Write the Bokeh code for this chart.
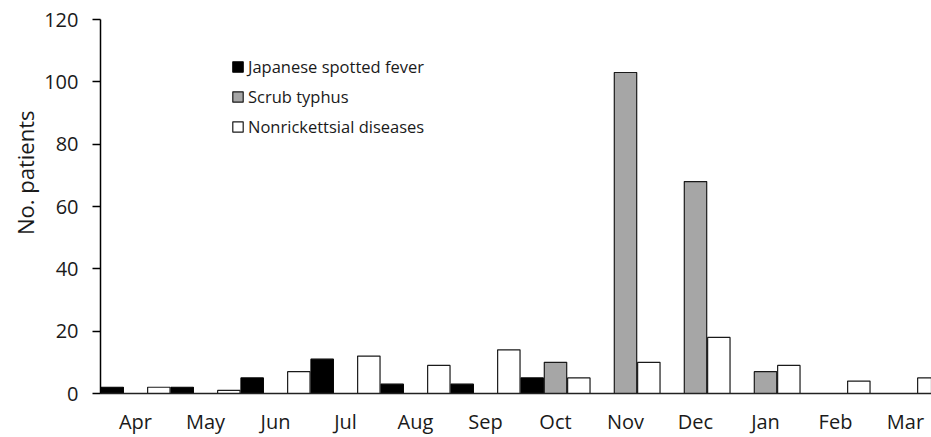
from bokeh.plotting import figure
from bokeh.models import ColumnDataSource, Legend, LegendItem, Title, FixedTicker
from bokeh.transform import dodge
from bokeh.embed import file_html
from bokeh.resources import INLINE

months = ["Apr", "May", "Jun", "Jul", "Aug", "Sep", "Oct", "Nov", "Dec", "Jan", "Feb", "Mar"]
jsf = [2, 2, 5, 11, 3, 3, 5, 0, 0, 0, 0, 0]
scrub = [0, 0, 0, 0, 0, 0, 10, 103, 68, 7, 0, 0]
nonrick = [2, 1, 7, 12, 9, 14, 5, 10, 18, 9, 4, 5]
series_names = ["Japanese spotted fever", "Scrub typhus", "Nonrickettsial diseases"]
y_ticks = [0, 20, 40, 60, 80, 100, 120]

# category slot centres (each month occupies one unit on the x scale)
x_pos = [i + 0.5 for i in range(len(months))]

src = ColumnDataSource(dict(x=x_pos, month=months, jsf=jsf, scrub=scrub, nonrick=nonrick))

FONT = "Open Sans"

# the plot area is slightly wider than the window in the original (last slot cut off)
p = figure(x_range=(0, 831 / 70), y_range=(0, 120),
           width=931, height=437, output_backend="svg", toolbar_location=None,
           min_border_left=100, min_border_top=19, min_border_bottom=43, min_border_right=0)

bw = 0.32
r1 = p.vbar(x=dodge("x", -1/3), top="jsf", width=bw, source=src,
            fill_color="black", line_color="black", line_width=1.2)
r2 = p.vbar(x=dodge("x", 0), top="scrub", width=bw, source=src,
            fill_color="#a6a6a6", line_color="#1a1a1a", line_width=1.2)
r3 = p.vbar(x=dodge("x", 1/3), top="nonrick", width=bw, source=src,
            fill_color="white", line_color="#1a1a1a", line_width=1.2)

p.xgrid.visible = False
p.ygrid.visible = False
p.outline_line_color = None
p.background_fill_color = "white"
p.border_fill_color = "white"

p.yaxis.ticker = y_ticks
p.yaxis.axis_line_color = "black"
p.yaxis.axis_line_width = 1.5
p.yaxis.major_tick_line_color = "black"
p.yaxis.major_tick_line_width = 1.5
p.yaxis.major_tick_in = 0
p.yaxis.major_tick_out = 8
p.yaxis.minor_tick_line_color = None
p.yaxis.major_label_standoff = 14
p.yaxis.major_label_text_font = FONT
p.yaxis.major_label_text_font_size = "20px"
p.yaxis.major_label_text_color = "#1a1a1a"

p.xaxis.ticker = FixedTicker(ticks=x_pos)
p.xaxis.major_label_overrides = {x: m for x, m in zip(x_pos, months)}
p.xaxis.axis_line_color = "#222222"
p.xaxis.axis_line_width = 1.5
p.xaxis.major_tick_line_color = None
p.xaxis.minor_tick_line_color = None
p.xaxis.major_tick_out = 0
p.xaxis.major_tick_in = 0
p.xaxis.major_label_standoff = 14
p.xaxis.major_label_text_font = FONT
p.xaxis.major_label_text_font_size = "20px"
p.xaxis.major_label_text_color = "#1a1a1a"

ytitle = Title(text="No. patients", align="right", offset=91, standoff=4,
               text_font=FONT, text_font_size="22px", text_font_style="normal",
               text_color="#1a1a1a")
p.add_layout(ytitle, "left")

legend = Legend(items=[LegendItem(label=series_names[0], renderers=[r1]),
                       LegendItem(label=series_names[1], renderers=[r2]),
                       LegendItem(label=series_names[2], renderers=[r3])],
                location=(131, 255), padding=0, margin=0, spacing=7,
                glyph_width=13, glyph_height=13, label_height=19, label_standoff=4,
                label_text_font=FONT, label_text_font_size="16.5px", label_text_color="#1a1a1a",
                border_line_color=None, background_fill_alpha=0)
p.add_layout(legend, "center")

open("out.html", "w").write(file_html(p, INLINE))
